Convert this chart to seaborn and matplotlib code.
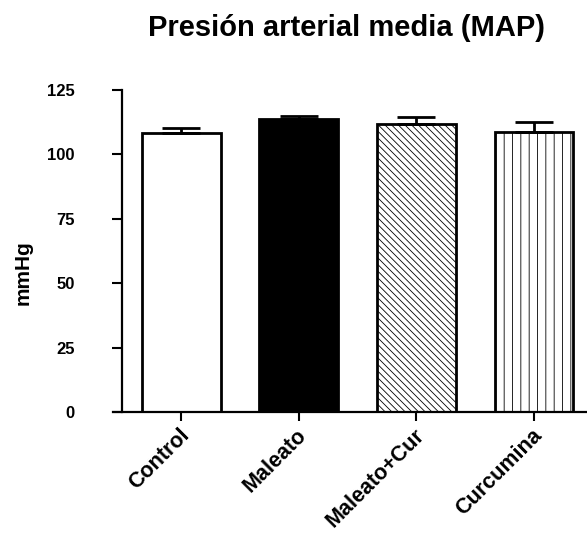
import numpy as np
import matplotlib
matplotlib.use("Agg")
import matplotlib.pyplot as plt
import matplotlib.transforms as mtransforms
import seaborn as sns

# datos (mmHg, media y error superior)
grupos = ["Control", "Maleato", "Maleato+Cur", "Curcumina"]
medias = [108.4, 113.7, 111.7, 108.8]
errores = [2.0, 1.4, 2.9, 3.8]
colores = ["white", "black", "white", "white"]
tramas = ["", "", "\\" * 5, "||"]
yticks = [0, 25, 50, 75, 100, 125]

sns.set_theme(style="ticks", rc={"axes.edgecolor": "black", "text.color": "black",
                                 "xtick.color": "black", "ytick.color": "black"})
plt.rcParams["font.family"] = ["Liberation Sans", "DejaVu Sans"]
plt.rcParams["hatch.linewidth"] = 0.6

fig = plt.figure(figsize=(5.87, 5.33), dpi=100)
ax = fig.add_axes([113 / 587, 121 / 533, 474 / 587, 322 / 533])

sns.barplot(x=grupos, y=medias, hue=grupos, palette=colores, legend=False,
            edgecolor="black", linewidth=2, width=0.67, ax=ax, zorder=2)
for barra, trama in zip(ax.patches, tramas):
    barra.set_hatch(trama)

x = np.arange(len(grupos))
ax.errorbar(x, medias, yerr=[np.zeros(len(grupos)), errores], fmt="none",
            ecolor="black", elinewidth=2, capsize=14, capthick=2, zorder=3)

ax.set_xlim(-0.58, 3.45)
ax.set_ylim(0, 125)
ax.set_xlabel("")
ax.set_ylabel("")

sns.despine(ax=ax)
ax.spines["left"].set_position(("data", -0.5))
ax.spines["left"].set_linewidth(1.6)
ax.spines["bottom"].set_linewidth(1.6)
ax.tick_params(axis="y", length=7.5, width=1.5, pad=27)
ax.tick_params(axis="x", length=6.5, width=1.5, pad=8)

ax.set_yticks(yticks)
ax.set_yticklabels([str(t) for t in yticks], fontsize=12, fontweight="bold")
ax.set_xticks(x)
ax.set_xticklabels(grupos, rotation=45, ha="right", va="center",
                   rotation_mode="anchor", fontsize=15.5, fontweight="bold")
# las etiquetas del eje x van algo a la derecha del tick
desplazo = mtransforms.ScaledTranslation(5 / 100, 0, fig.dpi_scale_trans)
for etiqueta in ax.get_xticklabels():
    etiqueta.set_transform(etiqueta.get_transform() + desplazo)

fig.text(346 / 587, 1 - 36 / 533, "Presión arterial media (MAP)", ha="center",
         va="baseline", fontsize=21, fontweight="bold")
fig.text(23 / 587, 0.488, "mmHg", rotation=90, ha="center", va="center",
         fontsize=15, fontweight="bold")

fig.savefig("out.png", dpi=100)
